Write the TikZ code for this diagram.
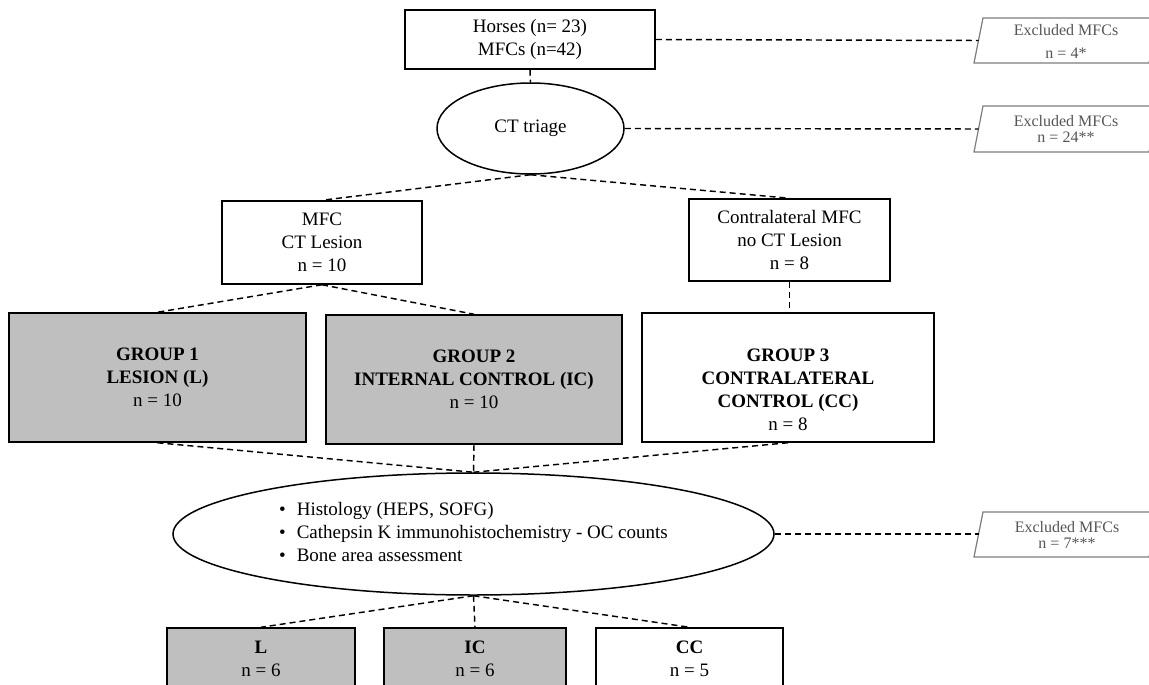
\documentclass[tikz,border=0pt]{standalone}
\usepackage{fontspec}
\setmainfont{Liberation Serif}
\usetikzlibrary{shapes.geometric}
\definecolor{boxgray}{RGB}{191,191,191}
\definecolor{exline}{RGB}{125,125,125}
\definecolor{exfont}{RGB}{85,85,85}
\begin{document}
\begin{tikzpicture}[x=1pt,y=-1pt,
  every node/.style={font=\fontsize{19}{23}\selectfont, align=center, inner sep=0pt},
  rbox/.style={draw, line width=1.5pt, rectangle},
  gbox/.style={rbox, fill=boxgray},
  oval/.style={draw, line width=1.5pt, ellipse},
  conn/.style={dash pattern=on 6pt off 4pt, line width=1.45pt},
  extxt/.style={font=\fontsize{16}{16}\selectfont, text=exfont},
  exshape/.style={draw=exline, line width=1.2pt}]
\useasboundingbox (0,0) rectangle (1149,685);
\clip (0,0) rectangle (1149,685);

% main nodes
\node[rbox, minimum width=250pt, minimum height=59pt] (top) at (530,39.5) {Horses (n= 23)\\MFCs (n=42)};
\node[oval, minimum width=187pt, minimum height=91pt] (ct) at (530.5,128.5) {CT triage};
\node[rbox, minimum width=200pt, minimum height=83pt] (mfc) at (322,242.5) {MFC\\CT Lesion\\n = 10};
\node[rbox, minimum width=201pt, minimum height=82pt] (contra) at (789.5,240) {Contralateral MFC\\no CT Lesion\\n = 8};
\node[gbox, minimum width=297pt, minimum height=129pt] (g1) at (157.5,377.5) {\textbf{GROUP 1}\\\textbf{LESION (L)}\\n = 10};
\node[gbox, minimum width=296pt, minimum height=129pt] (g2) at (474,379.5) {\textbf{GROUP 2}\\\textbf{INTERNAL CONTROL (IC)}\\n = 10};
\node[rbox, minimum width=292pt, minimum height=129pt] (g3) at (788,377.5) {};
\node (g3t) at (788,390) {\textbf{GROUP 3}\\\textbf{CONTRALATERAL}\\\textbf{CONTROL (CC)}\\n = 8};
\node[oval, minimum width=601pt, minimum height=122pt] (big) at (473.5,534)
  {\begin{tabular}{@{}l@{\hspace{11pt}}l@{}}\textbullet & Histology (HEPS, SOFG)\\
   \textbullet & Cathepsin K immunohistochemistry - OC counts\\
   \textbullet & Bone area assessment\end{tabular}};
\node[gbox, minimum width=188pt, minimum height=62pt] (L) at (261,659) {\textbf{L}\\n = 6};
\node[gbox, minimum width=182pt, minimum height=62pt] (IC) at (475,659) {\textbf{IC}\\n = 6};
\node[rbox, minimum width=187pt, minimum height=62pt] (CC) at (689.5,659) {\textbf{CC}\\n = 5};

% excluded parallelograms
\draw[exshape] (974,63) -- (983,18) -- (1158,18) -- (1149,63) -- cycle;
\node[extxt] (ex1) at (1066,41.5) {Excluded MFCs\\[7pt]n = 4*};
\coordinate (ex1w) at (978.5,40.5);
\draw[exshape] (974,152) -- (983,106) -- (1158,106) -- (1149,152) -- cycle;
\node[extxt, font=\fontsize{16}{15.5}\selectfont] (ex2) at (1066,129) {Excluded MFCs\\n = 24**};
\coordinate (ex2w) at (978.5,129);
\draw[exshape] (974,557) -- (983,512) -- (1158,512) -- (1149,557) -- cycle;
\node[extxt, font=\fontsize{16}{16.5}\selectfont] (ex3) at (1067,535) {Excluded MFCs\\n = 7***};
\coordinate (ex3w) at (978.5,534);

% connectors
\draw[conn] (top.south) -- (ct.north);
\draw[conn] (top.east) -- (ex1w);
\draw[conn] (ct.east) -- (ex2w);
\draw[conn] (ct.south) -- (mfc.north);
\draw[conn] (ct.south) -- (contra.north);
\draw[conn] (mfc.south) -- (g1.north);
\draw[conn] (mfc.south) -- (g2.north);
\draw[conn] (contra.south) -- (contra.south |- g3.north);
\draw[conn] (g1.south) -- (big.north);
\draw[conn] (g2.south) -- (big.north);
\draw[conn] (g3.south) -- (big.north);
\draw[conn] (big.east) -- (ex3w);
\draw[conn] (big.south) -- (L.north);
\draw[conn] (big.south) -- (IC.north);
\draw[conn] (big.south) -- (CC.north);
\end{tikzpicture}
\end{document}
